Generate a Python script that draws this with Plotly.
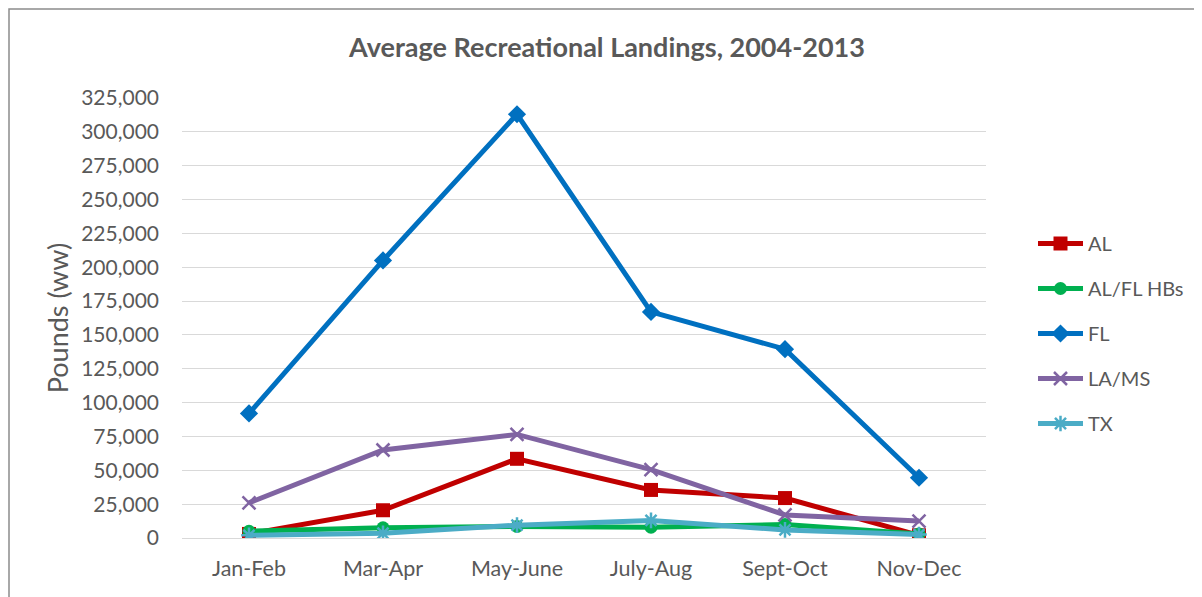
import plotly.graph_objects as go

categories = ["Jan-Feb", "Mar-Apr", "May-June", "July-Aug", "Sept-Oct", "Nov-Dec"]
al = [3000, 20500, 58500, 35500, 29500, 2000]
al_fl_hbs = [5000, 7500, 8500, 8000, 10000, 3000]
fl = [92000, 205000, 313000, 167000, 139500, 44500]
la_ms = [26000, 65000, 76500, 50500, 17000, 12500]
tx = [2000, 3500, 9500, 13000, 6000, 2500]
y_ticks = list(range(0, 325001, 25000))

OFF = 8  # page body margin offset
W, H = 1202 - OFF, 597 - OFF
L, R, T, B = 182 - OFF, 986 - OFF, 98 - OFF, 538 - OFF

series = [
    ("AL", al, "#C00000", dict(symbol="square", size=14)),
    ("AL/FL HBs", al_fl_hbs, "#00B050", dict(symbol="circle", size=13)),
    ("FL", fl, "#0070C0", dict(symbol="diamond", size=14)),
    ("LA/MS", la_ms, "#8064A2", dict(symbol="x-thin-open", size=13, line=dict(width=2.5))),
    ("TX", tx, "#4BACC6", dict(symbol="asterisk-open", size=13, line=dict(width=2.5))),
]

fig = go.Figure()
for name, vals, color, mk in series:
    marker = dict(color=color, **{k: v for k, v in mk.items() if k != "line"})
    if "line" in mk:
        marker["line"] = dict(color=color, width=mk["line"]["width"])
    fig.add_trace(go.Scatter(
        x=categories, y=vals, name=name, mode="lines+markers",
        line=dict(color=color, width=5),
        marker=marker, legendgroup=name,
    ))

fig.update_layout(
    width=W, height=H,
    margin=dict(l=L, r=W - R, t=T, b=H - B, autoexpand=False),
    paper_bgcolor="white", plot_bgcolor="white",
    font=dict(family="Lato, Open Sans, sans-serif", color="#595959", size=17),
    title=dict(text="<b>Average Recreational Landings, 2004-2013</b>",
               x=(607 - OFF) / W, xanchor="center", y=1 - (48 - OFF) / H, yanchor="middle",
               font=dict(size=27, color="#595959")),
    legend=dict(x=(1033 - OFF - L) / (R - L), xanchor="left", y=(B - 325.5) / (B - T), yanchor="middle",
                font=dict(size=20, color="#595959"), traceorder="grouped", tracegroupgap=16,
                itemwidth=45, bgcolor="rgba(0,0,0,0)"),
    showlegend=True,
)
fig.update_xaxes(range=[-0.5, len(categories) - 0.5], automargin=False,
                 showgrid=False, showline=False, zeroline=False, ticks="",
                 tickfont=dict(size=21.5, color="#595959"), ticklabelstandoff=15)
fig.update_yaxes(range=[0, 325000], tickvals=y_ticks, tickformat=",d", automargin=False,
                 showgrid=True, gridcolor="#D9D9D9", gridwidth=1,
                 zeroline=True, zerolinecolor="#D9D9D9", zerolinewidth=1,
                 showline=False, ticks="", ticklabelstandoff=22,
                 tickfont=dict(size=21, color="#595959"),
                 title=dict(text="Pounds (ww)", font=dict(size=27, color="#595959"), standoff=4))

# outer chart border (left and top edges visible)
fig.add_shape(type="rect", xref="paper", yref="paper",
              x0=(1 - L) / (R - L), x1=(W + 20 - L) / (R - L),
              y0=(B - (H + 20)) / (B - T), y1=(B - 1) / (B - T),
              line=dict(color="#8C8C8C", width=1.5), fillcolor="rgba(0,0,0,0)", layer="below")

fig.write_html("out.html")
